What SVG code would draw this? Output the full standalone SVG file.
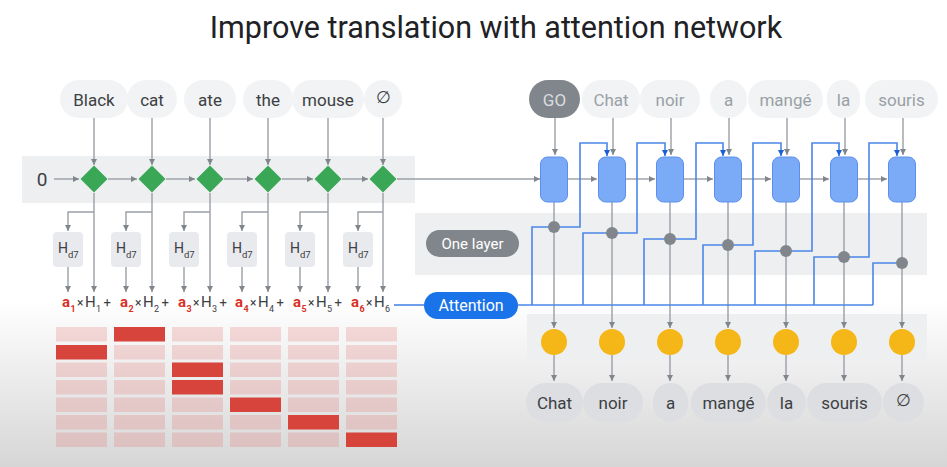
<svg xmlns="http://www.w3.org/2000/svg" width="947" height="467" viewBox="0 0 947 467">
<defs>
<linearGradient id="bg" x1="0" y1="300" x2="0" y2="467" gradientUnits="userSpaceOnUse">
<stop offset="0" stop-color="#ffffff"/>
<stop offset="1" stop-color="#d6d6d6"/>
</linearGradient>
<marker id="ag" viewBox="0 0 8 8" refX="8" refY="4" markerWidth="6" markerHeight="6" markerUnits="userSpaceOnUse" orient="auto"><path d="M0,0L8,4L0,8z" fill="#80868b"/></marker>
<marker id="ab" viewBox="0 0 8 8" refX="8" refY="4" markerWidth="6" markerHeight="6" markerUnits="userSpaceOnUse" orient="auto"><path d="M0,0L8,4L0,8z" fill="#1a5fd6"/></marker>
<style>
.t{font-family:Roboto,"Liberation Sans",sans-serif;}
.w{font-family:Roboto,"Liberation Sans",sans-serif;font-size:17px;fill:#3c4043;text-anchor:middle;dominant-baseline:central;}
.wd{font-family:Roboto,"Liberation Sans",sans-serif;font-size:17px;fill:#9aa0a6;text-anchor:middle;dominant-baseline:central;}
.bub{fill:#f1f3f4;}
.bubo{fill:#dcdee1;}
.band{fill:#eeeff1;}
.ln{stroke:#9aa0a6;stroke-width:1.4;fill:none;marker-end:url(#ag);}
.bl{stroke:#4a86e8;stroke-width:1.6;fill:none;}
.bla{stroke:#4a86e8;stroke-width:1.6;fill:none;marker-end:url(#ab);}
.dia{fill:#3aa757;}
.hb{fill:#e8eaed;}
.ht{font-family:Roboto,"Liberation Sans",sans-serif;font-size:14px;fill:#3c4043;}
.hs{font-size:9.5px;}
.f{font-family:Roboto,"Liberation Sans",sans-serif;font-size:15px;fill:#3c4043;}
.r{fill:#d93025;font-weight:bold;}
.sub{font-size:9px;}
.x{font-size:12px;}
.p{font-size:13px;}
.box{fill:#7baaf7;stroke:#5b8fec;stroke-width:1;}
.dot{fill:#80868b;}
.yc{fill:#f5b617;}
.lc{fill:#e57373;fill-opacity:0.25;}
.dc{fill:#d6443c;}
</style>
</defs>
<rect x="0" y="0" width="947" height="467" fill="url(#bg)"/>
<text class="t" x="496" y="38" font-size="30.5" fill="#202124" text-anchor="middle">Improve translation with attention network</text>

<!-- bands -->
<rect class="band" x="22" y="156" width="393" height="47"/>
<rect class="band" x="415" y="213" width="512" height="62"/>
<rect class="band" x="527" y="314" width="400" height="47"/>

<!-- heatmap -->
<g id="heatmap">
<rect class="lc" x="56" y="327" width="51" height="14.5"/>
<rect class="dc" x="56" y="345" width="51" height="14.5"/>
<rect class="lc" x="56" y="362.5" width="51" height="14.5"/>
<rect class="lc" x="56" y="380" width="51" height="14.5"/>
<rect class="lc" x="56" y="397.5" width="51" height="14.5"/>
<rect class="lc" x="56" y="415" width="51" height="14.5"/>
<rect class="lc" x="56" y="432.5" width="51" height="14.5"/>
<rect class="dc" x="114" y="327" width="51" height="14.5"/>
<rect class="lc" x="114" y="345" width="51" height="14.5"/>
<rect class="lc" x="114" y="362.5" width="51" height="14.5"/>
<rect class="lc" x="114" y="380" width="51" height="14.5"/>
<rect class="lc" x="114" y="397.5" width="51" height="14.5"/>
<rect class="lc" x="114" y="415" width="51" height="14.5"/>
<rect class="lc" x="114" y="432.5" width="51" height="14.5"/>
<rect class="lc" x="172" y="327" width="51" height="14.5"/>
<rect class="lc" x="172" y="345" width="51" height="14.5"/>
<rect class="dc" x="172" y="362.5" width="51" height="14.5"/>
<rect class="dc" x="172" y="380" width="51" height="14.5"/>
<rect class="lc" x="172" y="397.5" width="51" height="14.5"/>
<rect class="lc" x="172" y="415" width="51" height="14.5"/>
<rect class="lc" x="172" y="432.5" width="51" height="14.5"/>
<rect class="lc" x="230" y="327" width="51" height="14.5"/>
<rect class="lc" x="230" y="345" width="51" height="14.5"/>
<rect class="lc" x="230" y="362.5" width="51" height="14.5"/>
<rect class="lc" x="230" y="380" width="51" height="14.5"/>
<rect class="dc" x="230" y="397.5" width="51" height="14.5"/>
<rect class="lc" x="230" y="415" width="51" height="14.5"/>
<rect class="lc" x="230" y="432.5" width="51" height="14.5"/>
<rect class="lc" x="288" y="327" width="51" height="14.5"/>
<rect class="lc" x="288" y="345" width="51" height="14.5"/>
<rect class="lc" x="288" y="362.5" width="51" height="14.5"/>
<rect class="lc" x="288" y="380" width="51" height="14.5"/>
<rect class="lc" x="288" y="397.5" width="51" height="14.5"/>
<rect class="dc" x="288" y="415" width="51" height="14.5"/>
<rect class="lc" x="288" y="432.5" width="51" height="14.5"/>
<rect class="lc" x="346" y="327" width="51" height="14.5"/>
<rect class="lc" x="346" y="345" width="51" height="14.5"/>
<rect class="lc" x="346" y="362.5" width="51" height="14.5"/>
<rect class="lc" x="346" y="380" width="51" height="14.5"/>
<rect class="lc" x="346" y="397.5" width="51" height="14.5"/>
<rect class="lc" x="346" y="415" width="51" height="14.5"/>
<rect class="dc" x="346" y="432.5" width="51" height="14.5"/>
</g>

<!-- connectors -->
<g id="connectors">
<path class="ln" d="M94,118V165"/>
<path class="ln" d="M152,118V165"/>
<path class="ln" d="M210,118V165"/>
<path class="ln" d="M268,118V165"/>
<path class="ln" d="M328,118V165"/>
<path class="ln" d="M383,118V165"/>
<path class="ln" d="M54,179H79"/>
<path class="ln" d="M108,179H137"/>
<path class="ln" d="M166,179H195"/>
<path class="ln" d="M224,179H253"/>
<path class="ln" d="M282,179H313"/>
<path class="ln" d="M342,179H368"/>
<path class="ln" d="M397,179H540"/>
<path class="ln" d="M94,193V292"/>
<path class="ln" d="M152,193V292"/>
<path class="ln" d="M210,193V292"/>
<path class="ln" d="M268,193V292"/>
<path class="ln" d="M328,193V292"/>
<path class="ln" d="M383,193V292"/>
<path class="ln" d="M94,212H68V231"/>
<path class="ln" d="M152,212H126V231"/>
<path class="ln" d="M210,212H184V231"/>
<path class="ln" d="M268,212H242V231"/>
<path class="ln" d="M328,212H300V231"/>
<path class="ln" d="M383,212H358V231"/>
<path class="ln" d="M68,267V292"/>
<path class="ln" d="M126,267V292"/>
<path class="ln" d="M184,267V292"/>
<path class="ln" d="M242,267V292"/>
<path class="ln" d="M300,267V292"/>
<path class="ln" d="M358,267V292"/>
<path class="ln" d="M555,118V155"/>
<path class="ln" d="M613,118V155"/>
<path class="ln" d="M671,118V155"/>
<path class="ln" d="M729,118V155"/>
<path class="ln" d="M787,118V155"/>
<path class="ln" d="M845,118V155"/>
<path class="ln" d="M903,118V155"/>
<path class="ln" d="M567.5,179H597"/>
<path class="ln" d="M625.5,179H655"/>
<path class="ln" d="M683.5,179H713"/>
<path class="ln" d="M741.5,179H771"/>
<path class="ln" d="M799.5,179H829"/>
<path class="ln" d="M857.5,179H887"/>
<path class="ln" d="M554,202V328"/>
<path class="ln" d="M612,202V328"/>
<path class="ln" d="M670,202V328"/>
<path class="ln" d="M728,202V328"/>
<path class="ln" d="M786,202V328"/>
<path class="ln" d="M844,202V328"/>
<path class="ln" d="M902,202V328"/>
<path class="ln" d="M554,355V381"/>
<path class="ln" d="M612,355V381"/>
<path class="ln" d="M670,355V381"/>
<path class="ln" d="M728,355V381"/>
<path class="ln" d="M786,355V381"/>
<path class="ln" d="M844,355V381"/>
<path class="ln" d="M902,355V381"/>
<path class="bl" d="M394,305H424"/>
<path class="bl" d="M518,305H873"/>
<path class="bla" d="M532,305V227H580V143H607V156"/>
<path class="bla" d="M583,305V233H637V143H665V156"/>
<path class="bla" d="M644,305V239H696V143H723V156"/>
<path class="bla" d="M703,305V245H753V143H781V156"/>
<path class="bla" d="M755,305V251H812V143H839V156"/>
<path class="bla" d="M814,305V257H869V143H897V156"/>
<path class="bl" d="M873,305V263H902"/>
</g>

<!-- encoder input words -->
<g id="enc-in-black"><rect class="bub" x="60" y="80" width="68" height="38" rx="19"/><text class="w" x="94" y="99.5">Black</text></g>
<g id="enc-in-cat"><rect class="bub" x="127" y="80" width="50" height="38" rx="19"/><text class="w" x="152" y="99.5">cat</text></g>
<g id="enc-in-ate"><rect class="bub" x="184" y="80" width="52" height="38" rx="19"/><text class="w" x="210" y="99.5">ate</text></g>
<g id="enc-in-the"><rect class="bub" x="243" y="80" width="50" height="38" rx="19"/><text class="w" x="268" y="99.5">the</text></g>
<g id="enc-in-mouse"><rect class="bub" x="292" y="80" width="72" height="38" rx="19"/><text class="w" x="328" y="99.5">mouse</text></g>
<g id="enc-in-end"><rect class="bub" x="364" y="80" width="38" height="38" rx="19"/><text class="w" x="383" y="97">∅</text></g>

<g id="zero"><text class="t" x="42" y="186" font-size="19" fill="#3c4043" text-anchor="middle">0</text></g>

<!-- diamonds -->
<g id="enc-1"><polygon class="dia" points="94,165.5 107.5,179 94,192.5 80.5,179"/></g>
<g id="enc-2"><polygon class="dia" points="152,165.5 165.5,179 152,192.5 138.5,179"/></g>
<g id="enc-3"><polygon class="dia" points="210,165.5 223.5,179 210,192.5 196.5,179"/></g>
<g id="enc-4"><polygon class="dia" points="268,165.5 281.5,179 268,192.5 254.5,179"/></g>
<g id="enc-5"><polygon class="dia" points="328,165.5 341.5,179 328,192.5 314.5,179"/></g>
<g id="enc-6"><polygon class="dia" points="383,165.5 396.5,179 383,192.5 369.5,179"/></g>

<!-- H_d7 boxes -->
<g id="h-1"><rect class="hb" x="53" y="232" width="30" height="35" rx="4"/><text class="ht" x="58" y="253">H<tspan class="hs" x="68" y="258">d7</tspan></text></g>
<g id="h-2"><rect class="hb" x="111" y="232" width="30" height="35" rx="4"/><text class="ht" x="116" y="253">H<tspan class="hs" x="126" y="258">d7</tspan></text></g>
<g id="h-3"><rect class="hb" x="169" y="232" width="30" height="35" rx="4"/><text class="ht" x="174" y="253">H<tspan class="hs" x="184" y="258">d7</tspan></text></g>
<g id="h-4"><rect class="hb" x="227" y="232" width="30" height="35" rx="4"/><text class="ht" x="232" y="253">H<tspan class="hs" x="242" y="258">d7</tspan></text></g>
<g id="h-5"><rect class="hb" x="285" y="232" width="30" height="35" rx="4"/><text class="ht" x="290" y="253">H<tspan class="hs" x="300" y="258">d7</tspan></text></g>
<g id="h-6"><rect class="hb" x="343" y="232" width="30" height="35" rx="4"/><text class="ht" x="348" y="253">H<tspan class="hs" x="358" y="258">d7</tspan></text></g>

<!-- formula -->
<g id="formula">
<text class="f" y="307"><tspan class="r" x="62">a</tspan><tspan class="r sub" x="70.5" y="312">1</tspan><tspan class="x" x="77" y="307">×</tspan><tspan x="85">H</tspan><tspan class="sub" x="96" y="312">1</tspan><tspan class="p" x="103.5" y="307">+</tspan></text>
<text class="f" y="307"><tspan class="r" x="120">a</tspan><tspan class="r sub" x="128.5" y="312">2</tspan><tspan class="x" x="135" y="307">×</tspan><tspan x="143">H</tspan><tspan class="sub" x="154" y="312">2</tspan><tspan class="p" x="161.5" y="307">+</tspan></text>
<text class="f" y="307"><tspan class="r" x="178">a</tspan><tspan class="r sub" x="186.5" y="312">3</tspan><tspan class="x" x="193" y="307">×</tspan><tspan x="201">H</tspan><tspan class="sub" x="212" y="312">3</tspan><tspan class="p" x="219.5" y="307">+</tspan></text>
<text class="f" y="307"><tspan class="r" x="235">a</tspan><tspan class="r sub" x="243.5" y="312">4</tspan><tspan class="x" x="250" y="307">×</tspan><tspan x="258">H</tspan><tspan class="sub" x="269" y="312">4</tspan><tspan class="p" x="276.5" y="307">+</tspan></text>
<text class="f" y="307"><tspan class="r" x="293">a</tspan><tspan class="r sub" x="301.5" y="312">5</tspan><tspan class="x" x="308" y="307">×</tspan><tspan x="316">H</tspan><tspan class="sub" x="327" y="312">5</tspan><tspan class="p" x="334.5" y="307">+</tspan></text>
<text class="f" y="307"><tspan class="r" x="351">a</tspan><tspan class="r sub" x="359.5" y="312">6</tspan><tspan class="x" x="366" y="307">×</tspan><tspan x="374">H</tspan><tspan class="sub" x="385" y="312">6</tspan></text>
</g>

<!-- pills -->
<g id="one-layer"><rect x="426" y="230" width="93" height="27" rx="13.5" fill="#80868b"/><text class="t" x="472.5" y="243.5" font-size="15" fill="#ffffff" text-anchor="middle" dominant-baseline="central">One layer</text></g>
<g id="attention"><rect x="424" y="292" width="94" height="27" rx="13.5" fill="#1a73e8"/><text class="t" x="471" y="305.5" font-size="16" fill="#ffffff" text-anchor="middle" dominant-baseline="central">Attention</text></g>

<!-- decoder inputs -->
<g id="dec-in-go"><rect x="529" y="80" width="51" height="38" rx="19" fill="#80868b"/><text class="w" x="554.5" y="99.5" style="fill:#dadce0">GO</text></g>
<g id="dec-in-chat"><rect class="bub" x="582" y="80" width="58" height="38" rx="19"/><text class="wd" x="611" y="99.5">Chat</text></g>
<g id="dec-in-noir"><rect class="bub" x="640" y="80" width="60" height="38" rx="19"/><text class="wd" x="670" y="99.5">noir</text></g>
<g id="dec-in-a"><rect class="bub" x="710" y="80" width="37" height="38" rx="18.5"/><text class="wd" x="728.5" y="99.5">a</text></g>
<g id="dec-in-mange"><rect class="bub" x="748" y="80" width="75" height="38" rx="19"/><text class="wd" x="785.5" y="99.5">mangé</text></g>
<g id="dec-in-la"><rect class="bub" x="827" y="80" width="33" height="38" rx="16.5"/><text class="wd" x="843.5" y="99.5">la</text></g>
<g id="dec-in-souris"><rect class="bub" x="865" y="80" width="73" height="38" rx="19"/><text class="wd" x="901.5" y="99.5">souris</text></g>

<!-- decoder boxes -->
<g id="dec-1"><rect class="box" x="540.5" y="157" width="27" height="45" rx="7"/></g>
<g id="dec-2"><rect class="box" x="598.5" y="157" width="27" height="45" rx="7"/></g>
<g id="dec-3"><rect class="box" x="656.5" y="157" width="27" height="45" rx="7"/></g>
<g id="dec-4"><rect class="box" x="714.5" y="157" width="27" height="45" rx="7"/></g>
<g id="dec-5"><rect class="box" x="772.5" y="157" width="27" height="45" rx="7"/></g>
<g id="dec-6"><rect class="box" x="830.5" y="157" width="27" height="45" rx="7"/></g>
<g id="dec-7"><rect class="box" x="888.5" y="157" width="27" height="45" rx="7"/></g>

<!-- attention dots -->
<g id="att-dots">
<circle class="dot" cx="554" cy="227" r="6"/>
<circle class="dot" cx="612" cy="233" r="6"/>
<circle class="dot" cx="670" cy="239" r="6"/>
<circle class="dot" cx="728" cy="245" r="6"/>
<circle class="dot" cx="786" cy="251" r="6"/>
<circle class="dot" cx="844" cy="257" r="6"/>
<circle class="dot" cx="902" cy="263" r="6"/>
</g>

<!-- yellow outputs -->
<g id="out-1"><circle class="yc" cx="554" cy="342" r="13"/></g>
<g id="out-2"><circle class="yc" cx="612" cy="342" r="13"/></g>
<g id="out-3"><circle class="yc" cx="670" cy="342" r="13"/></g>
<g id="out-4"><circle class="yc" cx="728" cy="342" r="13"/></g>
<g id="out-5"><circle class="yc" cx="786" cy="342" r="13"/></g>
<g id="out-6"><circle class="yc" cx="844" cy="342" r="13"/></g>
<g id="out-7"><circle class="yc" cx="902" cy="342" r="13"/></g>

<!-- output words -->
<g id="dec-out-chat"><rect class="bubo" x="526" y="383" width="57" height="39" rx="19.5"/><text class="w" x="554.5" y="403">Chat</text></g>
<g id="dec-out-noir"><rect class="bubo" x="583" y="383" width="60" height="39" rx="19.5"/><text class="w" x="613" y="403">noir</text></g>
<g id="dec-out-a"><rect class="bubo" x="653" y="383" width="35" height="39" rx="17.5"/><text class="w" x="670.5" y="403">a</text></g>
<g id="dec-out-mange"><rect class="bubo" x="691" y="383" width="75" height="39" rx="19.5"/><text class="w" x="728.5" y="403">mangé</text></g>
<g id="dec-out-la"><rect class="bubo" x="767" y="383" width="39" height="39" rx="19.5"/><text class="w" x="786.5" y="403">la</text></g>
<g id="dec-out-souris"><rect class="bubo" x="807" y="383" width="75" height="39" rx="19.5"/><text class="w" x="844.5" y="403">souris</text></g>
<g id="dec-out-end"><rect class="bubo" x="883" y="383" width="41" height="39" rx="19.5"/><text class="w" x="903.5" y="400">∅</text></g>
</svg>
